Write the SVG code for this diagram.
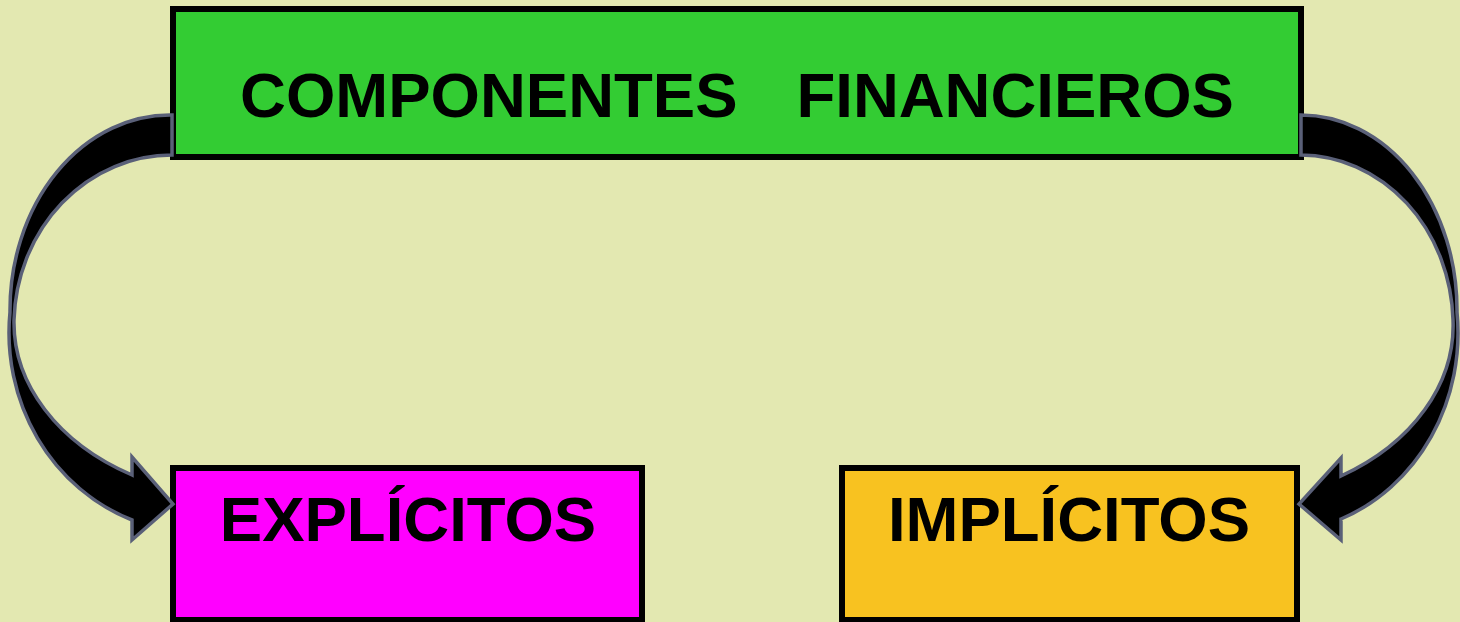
<svg xmlns="http://www.w3.org/2000/svg" width="1460" height="622" viewBox="0 0 1460 622">
  <style>
    .box { stroke: #000000; stroke-width: 6; }
    .lbl { font-family: "Liberation Sans", Arial, sans-serif; font-weight: bold; font-size: 63.5px; fill: #000000; text-anchor: middle; white-space: pre; }
    .arrow { fill: #000000; stroke: #5a6078; stroke-width: 3.5; stroke-linejoin: miter; }
  </style>
  <rect x="0" y="0" width="1460" height="622" fill="#E3E8B1"/>
  <g id="node-componentes">
    <rect class="box" x="173" y="9" width="1128" height="148" fill="#33CC33"/>
    <text class="lbl" x="737" y="117" word-spacing="2" xml:space="preserve">COMPONENTES   FINANCIEROS</text>
  </g>
  <g id="node-explicitos">
    <rect class="box" x="173" y="468" width="469" height="152" fill="#FF00FF"/>
    <text class="lbl" x="408" y="541">EXPLÍCITOS</text>
  </g>
  <g id="node-implicitos">
    <rect class="box" x="842" y="468" width="455" height="152" fill="#F8C220"/>
    <text class="lbl" x="1069" y="541">IMPLÍCITOS</text>
  </g>
  <g id="connectors">
    <path class="arrow" d="M 172,115 A 160,195 0 0 0 10,312 A 189,200 0 0 0 132,520 L 132,540 L 173,504 L 132,457 L 132,475 A 236,176 0 0 1 14,320 A 158,170 0 0 1 172,155 Z"/>
    <path class="arrow" d="M 1301,115 A 156,195 0 0 1 1457,312 A 185,200 0 0 1 1341,519 L 1341,540 L 1299,504 L 1341,458 L 1341,476 A 232,176 0 0 0 1453,320 A 153,170 0 0 0 1301,155 Z"/>
  </g>
</svg>
